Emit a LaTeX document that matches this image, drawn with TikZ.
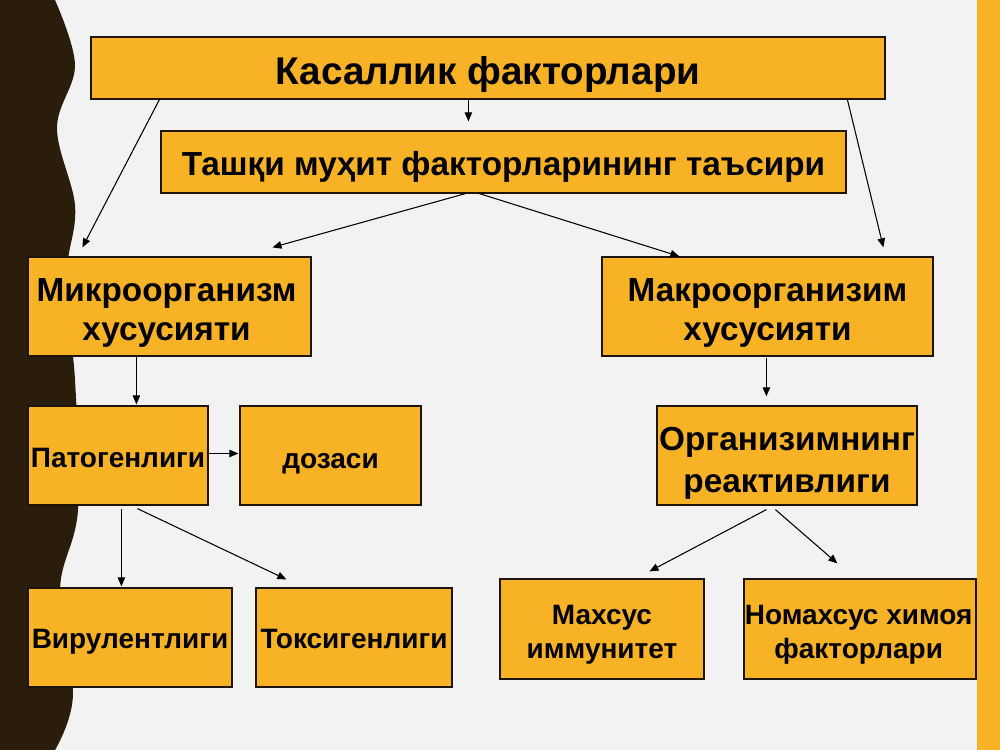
\documentclass[tikz,border=0pt]{standalone}
\usepackage{fontspec}
\setmainfont{Liberation Sans}
\usetikzlibrary{calc,arrows.meta}
\definecolor{bg}{HTML}{F2F2F2}
\definecolor{boxfill}{HTML}{F8B226}
\definecolor{darkstrip}{HTML}{2A1D0C}
\definecolor{edge}{HTML}{1E1408}
\newcommand{\boxtext}[2][0pt]{\raisebox{-#1}[\height][\depth]{\begin{tabular}{@{}c@{}}#2\end{tabular}}}
\tikzset{
  box/.style 2 args={draw=edge, line width=0.9pt, fill=boxfill, inner sep=0pt,
    minimum width=#1*0.75pt, minimum height=#2*0.75pt, align=center},
  fs/.style 2 args={font=\bfseries\fontsize{#1}{#2}\selectfont},
  conn/.style={draw=black, line width=0.8pt, -{Triangle[length=6.8pt,width=5.6pt]}}
}
\begin{document}
\begin{tikzpicture}[x=0.75pt,y=-0.75pt]
\useasboundingbox (0,0) rectangle (1000,750);
\fill[bg] (0,0) rectangle (1000,750);
\fill[boxfill] (977,0) rectangle (1000,750);
\fill[darkstrip] (0,0) -- plot[smooth, tension=0.6] coordinates
  {(55,0) (75,65) (57,128) (75,205) (68,260) (66,300) (75,380) (78,510) (60,590) (73,695) (55,750)}
  -- (0,750) -- cycle;

\node[box={794}{62}, fs={29}{34}] (top) at (488,68) {\boxtext[5.25pt]{Касаллик факторлари}};
\node[box={685}{62}, fs={25}{30}] (second) at (503.5,162) {\boxtext[3.75pt]{Ташқи муҳит факторларининг таъсири}};
\node[box={283}{99}, fs={25}{29}] (micro) at (169.5,306.5) {\boxtext[5.25pt]{Микроорганизм\\хусусияти}\hspace*{4.5pt}};
\node[box={331}{99}, fs={25}{29}] (macro) at (767.5,306.5) {\boxtext[5.25pt]{Макроорганизим\\хусусияти}};
\node[box={180}{99}, fs={21}{25}] (patogen) at (118,455.5) {\boxtext[3.75pt]{Патогенлиги}};
\node[box={181}{99}, fs={21}{25}] (dozasi) at (330.5,455.5) {\boxtext[4.5pt]{дозаси}};
\node[box={204}{99}, fs={21}{25}] (virulent) at (130,637.5) {\boxtext[3pt]{Вирулентлиги}};
\node[box={196}{99}, fs={21}{25}] (toksigen) at (354,637.5) {\boxtext[3pt]{Токсигенлиги}};
\node[box={260}{99}, fs={25}{31.5}] (organizm) at (787,455.5) {\boxtext[6pt]{Организимнинг\\реактивлиги}};
\node[box={204}{100}, fs={21}{25.5}] (maxsus) at (602,629) {\boxtext[4pt]{Махсус\\иммунитет}};
\node[box={232}{100}, fs={21}{25.5}] (nomaxsus) at (860,629) {\boxtext[4pt]{Номахсус химоя\\факторлари}\hspace*{2pt}};

\draw[conn] ($(top.south west)+(69,0)$) -- ($(micro.north west)+(55,-9)$);
\draw[conn] ($(top.south west)+(378,0)$) -- ($(second.north west)+(308,-9)$);
\draw[conn] ($(top.south west)+(757,0)$) -- ($(macro.north west)+(282,-9)$);
\draw[conn] ($(second.south west)+(305,0)$) -- ($(micro.north west)+(245,-9)$);
\draw[conn] ($(second.south west)+(319,0)$) -- ($(macro.north west)+(78,0)$);
\draw[conn] ($(micro.south west)+(109,0)$) -- ($(patogen.north west)+(109,-1)$);
\draw[conn] ($(macro.south west)+(165,1)$) -- ($(organizm.north west)+(110,-9)$);
\draw[conn] ($(patogen.east)+(0,-2)$) -- ($(dozasi.west)+(-1,-2)$);
\draw[conn] ($(patogen.south west)+(94,3)$) -- ($(virulent.north west)+(94,-1)$);
\draw[conn] ($(patogen.south west)+(110,3)$) -- ($(toksigen.north west)+(31,-8)$);
\draw[conn] ($(organizm.south west)+(110,4)$) -- ($(maxsus.north west)+(150,-7)$);
\draw[conn] ($(organizm.south west)+(119,4)$) -- ($(nomaxsus.north west)+(94,-15)$);
\end{tikzpicture}
\end{document}
